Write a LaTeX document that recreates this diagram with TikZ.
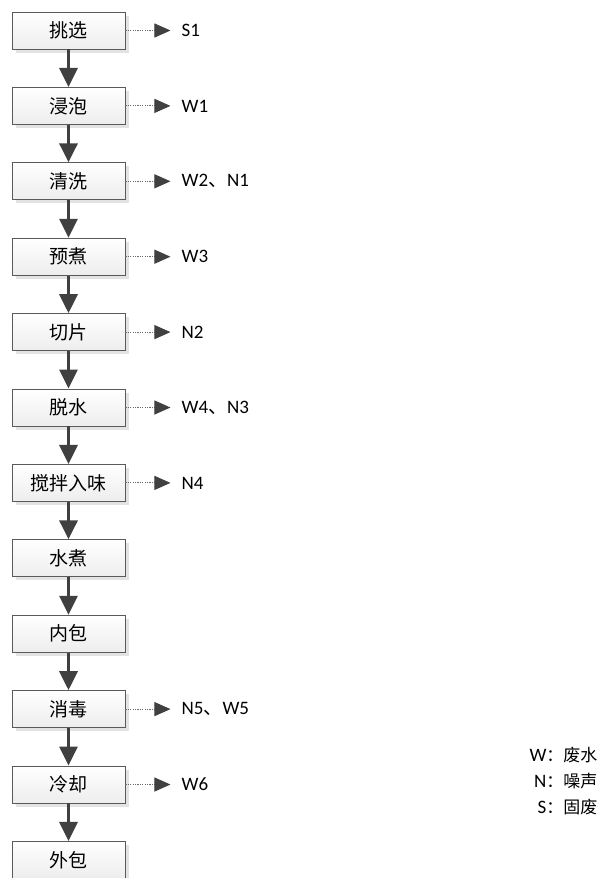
\documentclass[tikz,border=0pt]{standalone}
\usepackage{fontspec}
\setmainfont{Carlito}
\newfontfamily\cjk{Noto Sans CJK SC}
\usetikzlibrary{arrows.meta,shadows,positioning}
\definecolor{flowink}{HTML}{404040}
\definecolor{boxline}{HTML}{5A5A5A}
\tikzset{
  procbox/.style={draw=boxline,line width=0.9pt,minimum width=113pt,minimum height=37pt,inner sep=0pt,
    top color=white,bottom color=gray!14,
    drop shadow={shadow xshift=3.5pt,shadow yshift=-3.5pt,fill=gray!22,opacity=1},
    font=\fontsize{19}{21}\selectfont\cjk},
  mainflow/.style={draw=flowink,line width=3.2pt,-{Triangle[length=19pt,width=18pt,color=flowink]}},
  outflow/.style={draw=gray!85!black,line width=1pt,dash pattern=on 1.2pt off 1.2pt,shorten >=11pt,
    -{Triangle[length=16pt,width=14pt,color=flowink]}},
  outlbl/.style={inner sep=0pt,font=\fontsize{19}{21}\selectfont}
}
\begin{document}
\begin{tikzpicture}[x=1pt,y=-1pt]
\useasboundingbox (0,0) rectangle (605,878);
% process steps
\foreach \name [count=\i from 0] in {挑选,浸泡,清洗,预煮,切片,脱水,搅拌入味,水煮,内包,消毒,冷却,外包}{
  \node[procbox] (p\i) at (68.5,{30.5+75.4*\i}) {\name};}
\foreach \i in {0,...,10}{\pgfmathtruncatemacro{\j}{\i+1}
  \draw[mainflow] (p\i) -- (p\j);}
% emissions
\foreach \i/\lbl in {0/S1,1/W1,2/{W2{\cjk 、}N1},3/W3,4/N2,5/{W4{\cjk 、}N3},6/N4,9/{N5{\cjk 、}W5},10/W6}{
  \node[outlbl,right=56pt of p\i] (e\i) {\lbl};
  \draw[outflow] (p\i) -- (e\i);}
% legend
\node[align=right,anchor=east,font=\fontsize{19}{26}\selectfont] (key) at (601,781)
  {W{\cjk\fontsize{17}{26}\selectfont ：废水}\\N{\cjk\fontsize{17}{26}\selectfont ：噪声}\\S{\cjk\fontsize{17}{26}\selectfont ：固废}};
\end{tikzpicture}
\end{document}
